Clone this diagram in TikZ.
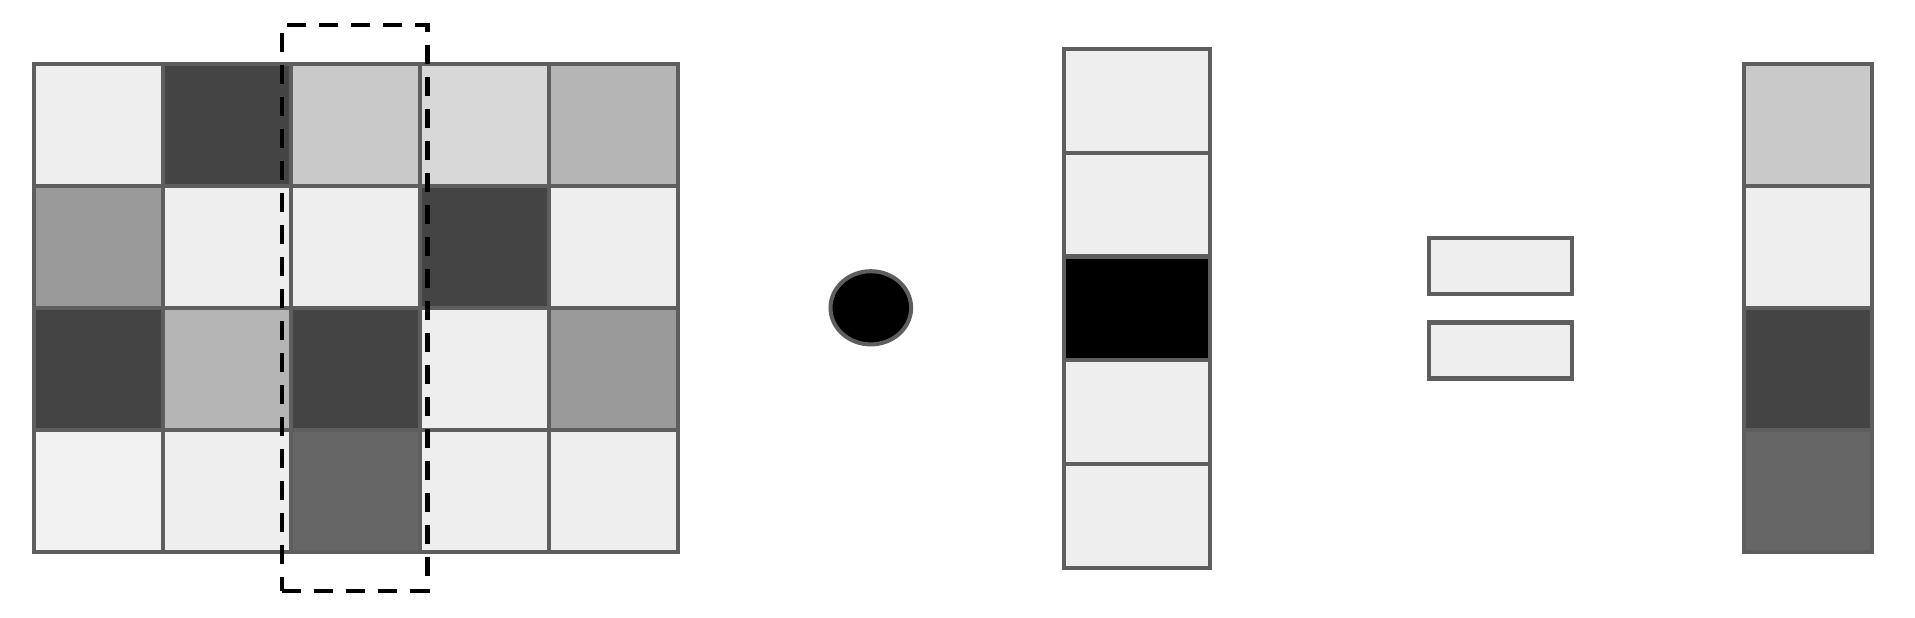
\documentclass[tikz,border=0pt]{standalone}
\usetikzlibrary{shapes.geometric}

\definecolor{cellA}{HTML}{EEEEEE}
\definecolor{cellB}{HTML}{444444}
\definecolor{cellC}{HTML}{C9C9C9}
\definecolor{cellD}{HTML}{D8D8D8}
\definecolor{cellE}{HTML}{B5B5B5}
\definecolor{cellF}{HTML}{9A9A9A}
\definecolor{cellG}{HTML}{666666}
\definecolor{cellH}{HTML}{F2F2F2}
\definecolor{edge}{HTML}{5E5E5E}

\tikzset{
  cell/.style={rectangle, draw = edge, line width = 1.15pt, inner sep = 0pt,
    minimum width = 1.287cm, minimum height = 1.221cm},
  vcell/.style={rectangle, draw = edge, line width = 1.15pt, inner sep = 0pt,
    minimum width = 1.466cm, minimum height = 1.038cm},
  bar/.style={rectangle, draw = edge, line width = 1.15pt, inner sep = 0pt,
    fill = cellA, minimum width = 1.43cm, minimum height = 0.56cm}
}

\begin{document}
\begin{tikzpicture}

    \useasboundingbox (0,0) rectangle (19.15,6.17);

    % matrix
    \node[cell, fill = cellA] (m11) at (0.984,4.924) {};
    \node[cell, fill = cellB] (m12) at (2.271,4.924) {};
    \node[cell, fill = cellC] (m13) at (3.558,4.924) {};
    \node[cell, fill = cellD] (m14) at (4.845,4.924) {};
    \node[cell, fill = cellE] (m15) at (6.132,4.924) {};

    \node[cell, fill = cellF] (m21) at (0.984,3.703) {};
    \node[cell, fill = cellA] (m22) at (2.271,3.703) {};
    \node[cell, fill = cellA] (m23) at (3.558,3.703) {};
    \node[cell, fill = cellB] (m24) at (4.845,3.703) {};
    \node[cell, fill = cellA] (m25) at (6.132,3.703) {};

    \node[cell, fill = cellB] (m31) at (0.984,2.482) {};
    \node[cell, fill = cellE] (m32) at (2.271,2.482) {};
    \node[cell, fill = cellB] (m33) at (3.558,2.482) {};
    \node[cell, fill = cellA] (m34) at (4.845,2.482) {};
    \node[cell, fill = cellF] (m35) at (6.132,2.482) {};

    \node[cell, fill = cellH] (m41) at (0.984,1.261) {};
    \node[cell, fill = cellA] (m42) at (2.271,1.261) {};
    \node[cell, fill = cellG] (m43) at (3.558,1.261) {};
    \node[cell, fill = cellA] (m44) at (4.845,1.261) {};
    \node[cell, fill = cellA] (m45) at (6.132,1.261) {};

    % selected column
    \node[rectangle, draw = black, line width = 1.25pt,
    dash pattern = on 0.19cm off 0.13cm, inner sep = 0pt,
    minimum width = 1.456cm, minimum height = 5.654cm] (sel) at (3.545,3.09) {};

    % product sign
    \node[ellipse, draw = edge, fill = black, line width = 1.15pt, inner sep = 0pt,
    minimum width = 0.806cm, minimum height = 0.732cm] (dot) at (8.708,3.092) {};

    % vector
    \node[vcell, fill = cellA] (v1) at (11.37,5.162) {};
    \node[vcell, fill = cellA] (v2) at (11.37,4.124) {};
    \node[vcell, fill = black] (v3) at (11.37,3.086) {};
    \node[vcell, fill = cellA] (v4) at (11.37,2.048) {};
    \node[vcell, fill = cellA] (v5) at (11.37,1.010) {};

    % equals sign
    \node[bar] (eq1) at (15.005,3.51) {};
    \node[bar] (eq2) at (15.005,2.665) {};

    % result
    \node[cell, minimum width = 1.28cm, fill = cellC] (r1) at (18.08,4.924) {};
    \node[cell, minimum width = 1.28cm, fill = cellA] (r2) at (18.08,3.703) {};
    \node[cell, minimum width = 1.28cm, fill = cellB] (r3) at (18.08,2.482) {};
    \node[cell, minimum width = 1.28cm, fill = cellG] (r4) at (18.08,1.261) {};

  \end{tikzpicture}
\end{document}
